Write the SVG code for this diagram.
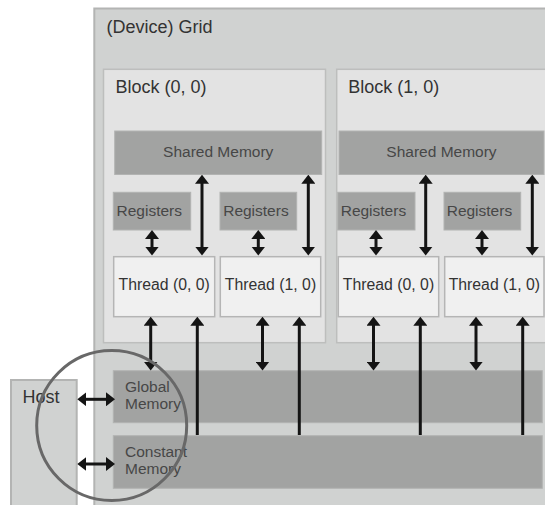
<svg xmlns="http://www.w3.org/2000/svg" width="545" height="505" viewBox="0 0 545 505">
<defs>
<style>
text{font-family:"Liberation Sans",Arial,Helvetica,sans-serif;}
.grid{fill:#d0d2d1;stroke:#b3b4b3;stroke-width:2;}
.block{fill:#e3e3e3;stroke:#bdbebd;stroke-width:1.5;}
.mem{fill:#a2a3a2;stroke:#b2b3b2;stroke-width:1;}
.thread{fill:#f0f0f0;stroke:#b5b5b5;stroke-width:1.5;}
.title{font-size:18px;fill:#333;}
.lbl{font-size:15.5px;fill:#474747;}
.tlbl{font-size:15.8px;fill:#333;}
.conn line{stroke:#141414;stroke-width:3;}
.both{marker-start:url(#ah);marker-end:url(#ah);}
.up{marker-start:url(#ah);}
</style>
<marker id="ah" viewBox="0 0 9 14" markerWidth="9" markerHeight="14" refX="1" refY="7" orient="auto-start-reverse" markerUnits="userSpaceOnUse">
<path d="M0,0 L9,7 L0,14 z" fill="#141414"/>
</marker>
</defs>
<rect width="545" height="505" fill="#ffffff"/>
<g id="grid">
<rect class="grid" x="94.3" y="8.5" width="470" height="510"/>
<text class="title" x="106.5" y="33">(Device) Grid</text>
</g>
<g id="host">
<rect class="grid" x="11" y="380" width="65.7" height="140"/>
<text class="title" x="22.5" y="403.3">Host</text>
</g>
<g id="block00">
<rect class="block" x="103.5" y="69.3" width="222" height="273.4"/>
<text class="title" x="115.5" y="93.3">Block (0, 0)</text>
</g>
<g id="block10">
<rect class="block" x="336.7" y="69.3" width="230" height="273.4"/>
<text class="title" x="348.3" y="93.3">Block (1, 0)</text>
</g>
<g id="shared00">
<rect class="mem" x="114.7" y="131" width="207" height="43.5"/>
<text class="lbl" x="218.2" y="157.3" text-anchor="middle">Shared Memory</text>
</g>
<g id="shared10">
<rect class="mem" x="339" y="131" width="205" height="43.5"/>
<text class="lbl" x="441.5" y="157.3" text-anchor="middle">Shared Memory</text>
</g>
<g id="reg00">
<rect class="mem" x="113.3" y="192.3" width="77.4" height="37.7"/>
<text class="lbl" x="116.5" y="215.5">Registers</text>
</g>
<g id="reg01">
<rect class="mem" x="220" y="192.3" width="76.7" height="37.7"/>
<text class="lbl" x="223.2" y="215.5">Registers</text>
</g>
<g id="reg10">
<rect class="mem" x="337.7" y="192.3" width="77.3" height="37.7"/>
<text class="lbl" x="340.7" y="215.5">Registers</text>
</g>
<g id="reg11">
<rect class="mem" x="444" y="192.3" width="76.7" height="37.7"/>
<text class="lbl" x="446.7" y="215.5">Registers</text>
</g>
<g id="thread00a">
<rect class="thread" x="113.7" y="256.7" width="101" height="60"/>
<text class="tlbl" x="164.2" y="289.5" text-anchor="middle">Thread (0, 0)</text>
</g>
<g id="thread01a">
<rect class="thread" x="220.3" y="256.7" width="100.4" height="60"/>
<text class="tlbl" x="270.5" y="289.5" text-anchor="middle">Thread (1, 0)</text>
</g>
<g id="thread00b">
<rect class="thread" x="338.3" y="256.7" width="100.4" height="60"/>
<text class="tlbl" x="388.5" y="289.5" text-anchor="middle">Thread (0, 0)</text>
</g>
<g id="thread01b">
<rect class="thread" x="444.7" y="256.7" width="99.3" height="60"/>
<text class="tlbl" x="494.3" y="289.5" text-anchor="middle">Thread (1, 0)</text>
</g>
<g id="global">
<rect class="mem" x="113.3" y="370.7" width="429" height="52"/>
<text class="lbl" x="125" y="391.7">Global</text>
<text class="lbl" x="125" y="409.3">Memory</text>
</g>
<g id="constant">
<rect class="mem" x="113.3" y="435.7" width="429" height="52.6"/>
<text class="lbl" x="125" y="456.7">Constant</text>
<text class="lbl" x="125" y="474.3">Memory</text>
</g>
<g id="connectors" class="conn">
<line class="both" x1="152" y1="238" x2="152" y2="247.5"/>
<line class="both" x1="202" y1="182.7" x2="202" y2="247.5"/>
<line class="both" x1="258.3" y1="238" x2="258.3" y2="247.5"/>
<line class="both" x1="308.3" y1="182.7" x2="308.3" y2="247.5"/>
<line class="both" x1="376" y1="238" x2="376" y2="247.5"/>
<line class="both" x1="425.7" y1="182.7" x2="425.7" y2="247.5"/>
<line class="both" x1="482" y1="238" x2="482" y2="247.5"/>
<line class="both" x1="532.3" y1="182.7" x2="532.3" y2="247.5"/>
<line class="both" x1="150.7" y1="324.7" x2="150.7" y2="362.5"/>
<line class="both" x1="262.5" y1="324.7" x2="262.5" y2="362.5"/>
<line class="both" x1="373.5" y1="324.7" x2="373.5" y2="362.5"/>
<line class="both" x1="476" y1="324.7" x2="476" y2="362.5"/>
<line class="up" x1="197.3" y1="324.7" x2="197.3" y2="435"/>
<line class="up" x1="299.3" y1="324.7" x2="299.3" y2="435"/>
<line class="up" x1="420.3" y1="324.7" x2="420.3" y2="435"/>
<line class="up" x1="522.7" y1="324.7" x2="522.7" y2="435"/>
<line class="both" x1="85.3" y1="399.3" x2="107" y2="399.3"/>
<line class="both" x1="85.3" y1="464" x2="107" y2="464"/>
</g>
<circle cx="111.7" cy="425.5" r="75" fill="none" stroke="#686868" stroke-width="3"/>
</svg>
